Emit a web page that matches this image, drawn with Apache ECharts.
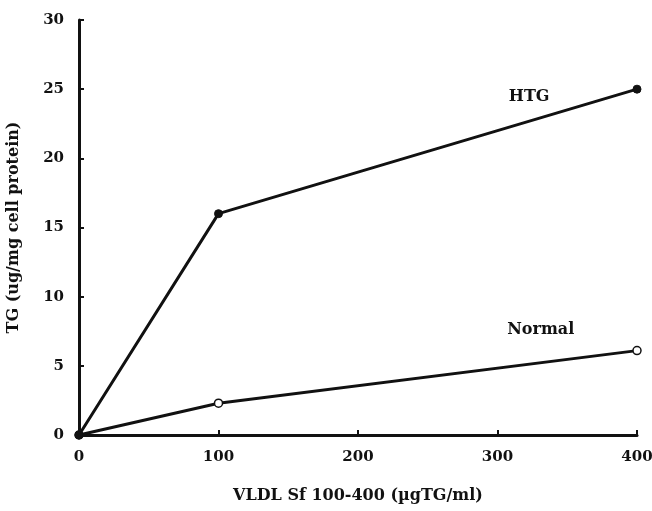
<!DOCTYPE html>
<html>
<head>
<meta charset="utf-8">
<script src="https://cdn.jsdelivr.net/npm/echarts@6/dist/echarts.min.js"></script>
<style>
  html, body { margin: 0; padding: 0; background: #fff; }
  #chart { width: 652px; height: 511px; }
</style>
</head>
<body>
<div id="chart"></div>
<script>
  // VLDL concentration (ugTG/ml)
  const conc = [0, 100, 400]
  const htg = [0, 16, 25]
  const normal = [0, 2.3, 6.1]
  const xTicks = [0, 100, 200, 300, 400]
  const yTicks = [0, 5, 10, 15, 20, 25, 30]

  const font = '"DejaVu Serif", "Liberation Serif", serif'

  function pairs(xs, ys) {
    return xs.map((x, i) => [x, ys[i]])
  }

  function seriesLabel(text, offset) {
    return {
      show: true, formatter: text, position: 'left', offset: offset,
      color: '#111', fontFamily: font, fontWeight: 'bold', fontSize: 16
    }
  }

  const myChart = echarts.init(document.getElementById('chart'))
  myChart.setOption({
    animation: false,
    backgroundColor: '#fff',
    grid: { left: 79, right: 15, top: 20, bottom: 76, outerBoundsMode: 'none' },
    xAxis: {
      type: 'value',
      min: xTicks[0],
      max: xTicks[xTicks.length - 1],
      interval: 100,
      name: 'VLDL Sf 100-400 (\u00b5gTG/ml)',
      nameLocation: 'middle',
      nameGap: 53,
      nameTextStyle: { color: '#111', fontFamily: font, fontWeight: 'bold', fontSize: 16 },
      axisLine: { lineStyle: { color: '#111', width: 3 } },
      axisTick: { inside: true, length: 5, lineStyle: { color: '#111', width: 2 } },
      axisLabel: { color: '#111', fontFamily: font, fontWeight: 'bold', fontSize: 15, margin: 15 },
      splitLine: { show: false }
    },
    yAxis: {
      type: 'value',
      min: yTicks[0],
      max: yTicks[yTicks.length - 1],
      interval: 5,
      name: 'TG (ug/mg cell protein)',
      nameLocation: 'middle',
      nameGap: 57,
      nameTextStyle: { color: '#111', fontFamily: font, fontWeight: 'bold', fontSize: 16 },
      axisLine: { lineStyle: { color: '#111', width: 3 } },
      axisTick: { inside: true, length: 5, lineStyle: { color: '#111', width: 2 } },
      axisLabel: { color: '#111', fontFamily: font, fontWeight: 'bold', fontSize: 15, margin: 15 },
      splitLine: { show: false }
    },
    series: [
      {
        name: 'HTG',
        type: 'line',
        data: pairs(conc, htg).map((p, i) => i === conc.length - 1
          ? { value: p, label: seriesLabel('HTG', [-78, 8]) } : p),
        symbol: 'circle',
        symbolSize: 8,
        lineStyle: { color: '#111', width: 3 },
        itemStyle: { color: '#111', borderColor: '#111', borderWidth: 1 }
      },
      {
        name: 'Normal',
        type: 'line',
        data: pairs(conc, normal).map((p, i) => {
          if (i === 0) return { value: p, itemStyle: { color: '#111' } }
          if (i === conc.length - 1) return { value: p, label: seriesLabel('Normal', [-53, -21]) }
          return p
        }),
        symbol: 'circle',
        symbolSize: 8,
        lineStyle: { color: '#111', width: 3 },
        itemStyle: { color: '#fff', borderColor: '#111', borderWidth: 1.5 }
      }
    ]
  })
</script>
</body>
</html>
